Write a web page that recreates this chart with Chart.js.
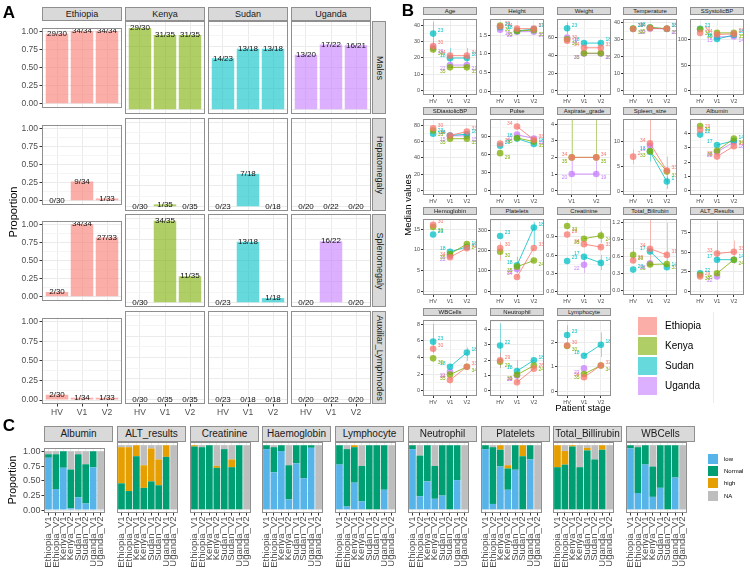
<!DOCTYPE html>
<html>
<head>
<meta charset="utf-8">
<script src="https://cdn.jsdelivr.net/npm/chart.js@4.4.1/dist/chart.umd.min.js"></script>
<style>
  html, body { margin: 0; padding: 0; background: #fff; }
  #page { position: relative; width: 750px; height: 574px; overflow: hidden; font-family: "Liberation Sans", Arial, sans-serif; }
  canvas { position: absolute; }
  .strip { position: absolute; background: #d9d9d9; border: 1px solid #8f8f8f; box-sizing: border-box; color: #1a1a1a; overflow: hidden; }
  .strip span { position: absolute; left: 50%; top: 50%; line-height: 1; white-space: nowrap; }
  .txt { position: absolute; white-space: nowrap; line-height: 1; }
</style>
</head>
<body>
<div id="page"></div>
<script>
// ---- shared ----
const countries = ["Ethiopia", "Kenya", "Sudan", "Uganda"];
const stages = ["HV", "V1", "V2"];
const hues = ["248,118,109", "124,174,0", "0,191,196", "199,124,255"];

// ---- panel A: patients with sign / patients seen, [HV, V1, V2] per country ----
const aRows = ["Males", "Hepatomegaly", "Splenomegaly", "Auxiliar_Lymphnodes"];
const malesN = [[29, 34, 34], [29, 31, 31], [14, 13, 13], [13, 17, 16]];
const malesD = [[30, 34, 34], [30, 35, 35], [23, 18, 18], [20, 22, 21]];
const hepatoN = [[0, 9, 1], [0, 1, 0], [0, 7, 0], [0, 0, 0]];
const hepatoD = [[30, 34, 33], [30, 35, 35], [23, 18, 18], [20, 22, 20]];
const splenoN = [[2, 34, 27], [0, 34, 11], [0, 13, 1], [0, 16, 0]];
const splenoD = [[30, 34, 33], [30, 35, 35], [23, 18, 18], [20, 22, 20]];
const lymphN = [[2, 1, 1], [0, 0, 0], [0, 0, 0], [0, 0, 0]];
const lymphD = [[30, 34, 33], [30, 35, 35], [23, 18, 18], [20, 22, 20]];
const aTicks = [0, 0.25, 0.5, 0.75, 1];

// ---- panel B: median values, [HV, V1, V2] per country ----
const bNames = ["Age", "Height", "Weight", "Temperature", "SSystolicBP", "SDiastolicBP", "Pulse", "Aspirate_grade", "Spleen_size", "Albumin",
  "Hemoglobin", "Platelets", "Creatinine", "Total_Bilirubin", "ALT_Results", "WBCells", "Neutrophil", "Lymphocyte"];
const ageMed = [[27.2, 21.4, 21.4], [25.2, 14.3, 14.3], [34.8, 19.9, 20.0], [26.2, 15.7, 15.7]];
const ageN = [[30, 34, 34], [30, 35, 35], [23, 18, 18], [19, 22, 21]];
const heightMed = [[1.73, 1.67, 1.67], [1.75, 1.61, 1.63], [1.71, 1.61, 1.66], [1.64, 1.59, 1.59]];
const heightN = [[30, 34, 33], [30, 35, 35], [23, 18, 17], [19, 22, 20]];
const weightMed = [[56.5, 48.5, 48.5], [58, 42.5, 42.5], [70.4, 53.8, 53.8], [60, 42, 42]];
const weightN = [[30, 34, 33], [30, 35, 35], [23, 18, 18], [19, 22, 20]];
const tempMed = [[36.3, 36.8, 36.5], [36.6, 37.2, 36.6], [36.5, 37.3, 36.4], [null, 36.6, 36.5]];
const tempN = [[30, 34, 33], [30, 35, 35], [23, 18, 18], [null, 22, 20]];
const sbpMed = [[113, 110, 111], [120, 113, 113], [121, 101, 109], [null, 105, 106]];
const sbpN = [[30, 34, 33], [30, 35, 35], [23, 18, 18], [null, 15, 14]];
const dbpMed = [[76.2, 67.3, 72.4], [73.5, 63.5, 63.5], [69.6, 67.5, 69], [null, 67, 67]];
const dbpN = [[30, 34, 33], [33, 35, 35], [23, 18, 18], [null, 15, 15]];
const pulseMed = [[78, 106, 84], [62, 87, 81], [74.4, 86, 77], [null, 92.5, 86]];
const pulseN = [[30, 34, 33], [29, 35, 35], [23, 18, 18], [null, 21, 19]];
const aspMed = [[2, 2], [2, 2], [null, null], [1, 1]]; // V1, V2 only
const aspN = [[34, 34], [35, 35], [null, null], [20, 19]];
const spleenMed = [[7, 9.7, 4.2], [null, 8.1, 4], [null, 8.0, 2], [null, 9.2, null]];
const spleenN = [[2, 34, 33], [null, 33, 33], [null, 13, 1], [null, 16, null]];
const albMed = [[4.26, 2.39, 3.12], [4.53, 2.8, 3.65], [3.93, 3.2, 3.5], [null, 2.72, 3.4]];
const albN = [[29, 32, 32], [30, 35, 34], [22, 17, 14], [null, 22, 18]];
const hbMed = [[16, 8.2, 10.4], [15.5, 9.0, 11.4], [13.7, 9.5, 10.7], [null, 8.6, null]];
const hbN = [[30, 34, 33], [33, 35, 24], [23, 18, 18], [null, 22, null]];
const pltMed = [[213, 70, 213], [194, 121, 151], [272, 128, 314], [null, 109, null]];
const pltN = [[30, 34, 33], [30, 35, 24], [23, 18, 18], [null, 22, null]];
const creatMed = [[0.94, 0.78, 0.73], [1.08, 0.87, 0.92], [0.5, 0.57, 0.47], [null, 0.44, null]];
const creatN = [[29, 34, 33], [33, 35, 24], [23, 17, 14], [null, 22, null]];
const bilMed = [[0.53, 0.74, 0.63], [0.63, 0.46, 0.47], [0.37, 0.69, 0.41], [null, 0.48, null]];
const bilN = [[29, 34, 31], [30, 35, 33], [23, 17, 14], [null, 22, null]];
const altMed = [[19, 48.5, 50.6], [21, 23, 40.5], [23, 40.5, 40.5], [null, 19, null]];
const altN = [[29, 33, 33], [30, 35, 24], [22, 17, 14], [null, 22, null]];
const wbcMed = [[5.05, 1.3, 2.9], [3.9, 1.95, 2.9], [5.9, 2.9, 4.6], [null, 2.3, null]];
const wbcN = [[30, 34, 33], [30, 35, 34], [23, 18, 18], [null, 22, null]];
const neutMed = [[2.0, 0.56, 1.45], [1.9, 1.05, 1.65], [2.96, 1.3, 2.0], [null, 1.0, null]];
const neutN = [[29, 34, 26], [29, 35, 24], [22, 18, 18], [null, 22, null]];
const lymMed = [[1.87, 0.57, 1.05], [1.85, 0.7, 1.05], [2.3, 1.45, 1.9], [null, 0.93, null]];
const lymN = [[30, 34, 32], [30, 35, 34], [23, 18, 18], [null, 22, null]];

const bMeds = [ageMed, heightMed, weightMed, tempMed, sbpMed, dbpMed, pulseMed, aspMed, spleenMed, albMed,
  hbMed, pltMed, creatMed, bilMed, altMed, wbcMed, neutMed, lymMed];
const bNs = [ageN, heightN, weightN, tempN, sbpN, dbpN, pulseN, aspN, spleenN, albN,
  hbN, pltN, creatN, bilN, altN, wbcN, neutN, lymN];
const bLims = [[-2.5, 43.5], [-0.1, 1.92], [-4.5, 80.5], [-2.6, 42.1], [-8.5, 139.6], [-5.2, 87.2], [-7, 117.8], [-0.26, 4.29], [-0.7, 14.5], [-0.3, 5.0],
  [-0.9, 17.35], [-18.6, 354], [-0.06, 1.19], [-0.08, 1.26], [-4.9, 92.4], [-0.6, 8.45], [-0.33, 4.6], [-0.2, 2.9]];
const bTicks = [[0, 10, 20, 30, 40], [0, 0.5, 1, 1.5], [0, 20, 40, 60], [0, 10, 20, 30, 40], [0, 50, 100], [0, 20, 40, 60, 80], [0, 30, 60, 90], [0, 1, 2, 3, 4], [0, 5, 10], [0, 1, 2, 3, 4],
  [0, 5, 10, 15], [0, 100, 200, 300], [0, 0.3, 0.6, 0.9], [0, 0.3, 0.6, 0.9, 1.2], [0, 25, 50, 75], [0, 2, 4, 6, 8], [0, 1, 2, 3, 4], [0, 1, 2]];
const bDec = [0, 1, 0, 0, 0, 0, 0, 0, 0, 0, 0, 0, 1, 1, 0, 0, 0, 0];
// error bars: [panel, country, stage index, low, high]
const bErr = [
  [0, 2, 0, 26, 42], [0, 2, 1, 17, 26], [0, 2, 2, 17, 26], [0, 0, 0, 23, 30],
  [2, 2, 0, 64, 77],
  [7, 1, 0, 2, 4.3], [7, 1, 1, 2, 4.3], [7, 3, 0, 1, 2], [7, 3, 1, 1, 2],
  [8, 0, 0, 5.5, 8.5], [8, 0, 1, 8, 14.5], [8, 0, 2, 2, 7], [8, 2, 1, 6, 10], [8, 2, 2, 0.5, 3],
  [11, 2, 2, 220, 340], [11, 0, 0, 150, 240], [11, 2, 1, 90, 170],
  [12, 1, 2, 0.8, 1.0], [12, 2, 2, 0.35, 0.6], [12, 3, 1, 0.3, 0.55],
  [13, 0, 1, 0.5, 1.25], [13, 1, 0, 0.5, 0.9], [13, 0, 2, 0.45, 1.2],
  [14, 2, 1, 20, 90], [14, 0, 2, 35, 65],
  [15, 2, 0, 4.5, 8], [15, 2, 2, 3.6, 5.2],
  [16, 2, 0, 1.5, 4.4], [16, 1, 1, 0.5, 2.0], [16, 0, 0, 1.5, 2.5],
  [17, 2, 0, 1.9, 2.7], [17, 2, 2, 1.4, 2.4]
];

// ---- panel C: share of low / Normal / high / NA per group ----
const cNames = ["Albumin", "ALT_results", "Creatinine", "Haemoglobin", "Lymphocyte", "Neutrophil", "Platelets", "Total_Billirubin", "WBCells"];
const cGroups = ["Ethiopia_V1", "Ethiopia_V2", "Kenya_V1", "Kenya_V2", "Sudan_V1", "Sudan_V2", "Uganda_V1", "Uganda_V2"];
const cLevels = ["low", "Normal", "high", "NA"];
const cCols = ["#56B4E9", "#009E73", "#E69F00", "#BEBEBE"];
const albuminC = [[0.89, 0.06, 0, 0.05], [0.36, 0.59, 0, 0.05], [0.72, 0.28, 0, 0], [0.03, 0.66, 0, 0.31], [0.22, 0.73, 0, 0.05], [0.11, 0.67, 0, 0.22], [0.73, 0.27, 0, 0], [0, 0, 0, 1]];
const altC = [[0, 0.41, 0.56, 0.03], [0, 0.29, 0.68, 0.03], [0, 0.83, 0.17, 0], [0, 0.34, 0.35, 0.31], [0, 0.44, 0.51, 0.05], [0, 0.38, 0.40, 0.22], [0, 0.82, 0.18, 0], [0, 0, 0, 1]];
const creatC = [[0, 0.98, 0.02, 0], [0, 0.97, 0, 0.03], [0, 1, 0, 0], [0, 0.65, 0.03, 0.32], [0, 0.94, 0, 0.06], [0, 0.66, 0.12, 0.22], [0, 1, 0, 0], [0, 0, 0, 1]];
const haemC = [[0.94, 0.06, 0, 0], [0.58, 0.39, 0, 0.03], [0.91, 0.09, 0, 0], [0.16, 0.53, 0, 0.31], [0.72, 0.28, 0, 0], [0.49, 0.51, 0, 0], [0.96, 0.04, 0, 0], [0, 0, 0, 1]];
const lymphC = [[0.70, 0.30, 0, 0], [0.05, 0.89, 0, 0.06], [0.42, 0.55, 0.03, 0], [0.13, 0.55, 0, 0.32], [0, 1, 0, 0], [0, 1, 0, 0], [0.31, 0.69, 0, 0], [0, 0, 0, 1]];
const neutC = [[0.94, 0.06, 0, 0], [0.21, 0.63, 0, 0.16], [0.44, 0.56, 0, 0], [0.17, 0.51, 0, 0.32], [0.22, 0.78, 0, 0], [0, 1, 0, 0], [0.46, 0.54, 0, 0], [0, 0, 0, 1]];
const pltC = [[0.94, 0.06, 0, 0], [0.09, 0.88, 0, 0.03], [0.67, 0.26, 0.07, 0], [0.31, 0.33, 0.05, 0.31], [0.62, 0.38, 0, 0], [0, 0.83, 0.17, 0], [0.78, 0.22, 0, 0], [0, 0, 0, 1]];
const bilC = [[0, 0.66, 0.34, 0], [0, 0.70, 0.21, 0.09], [0, 0.98, 0.02, 0], [0, 0.66, 0, 0.34], [0, 0.92, 0.04, 0.04], [0, 0.78, 0, 0.22], [0, 0.93, 0.07, 0], [0, 0, 0, 1]];
const wbcC = [[0.95, 0.05, 0, 0], [0.26, 0.71, 0, 0.03], [0.70, 0.30, 0, 0], [0.20, 0.47, 0, 0.33], [0.34, 0.66, 0, 0], [0, 1, 0, 0], [0.50, 0.50, 0, 0], [0, 0, 0, 1]];
const cVals = [albuminC, altC, creatC, haemC, lymphC, neutC, pltC, bilC, wbcC];

// ---- helpers ----
const page = document.getElementById("page");
const FONT = "'Liberation Sans', Arial, sans-serif";
Chart.defaults.font.family = FONT;

function text(str, cx, cy, size, opt = {}) {
  const d = document.createElement("div");
  d.className = "txt";
  d.textContent = str;
  d.style.left = cx + "px";
  d.style.top = cy + "px";
  d.style.fontSize = size + "px";
  d.style.fontWeight = opt.bold ? "bold" : "normal";
  d.style.color = opt.color || "#000";
  d.style.transform = opt.anchorLeft ? "translate(0,-50%)" : "translate(-50%,-50%)" + (opt.rot ? " rotate(" + opt.rot + "deg)" : "");
  page.appendChild(d);
}

function strip(x, y, w, h, str, size, vertical) {
  const d = document.createElement("div");
  d.className = "strip";
  d.style.left = x + "px"; d.style.top = y + "px";
  d.style.width = w + "px"; d.style.height = h + "px";
  const s = document.createElement("span");
  s.textContent = str;
  s.style.fontSize = size + "px";
  s.style.transform = "translate(-50%,-50%)" + (vertical ? " rotate(90deg)" : "");
  d.appendChild(s);
  page.appendChild(d);
}

function box(x, y, w, h, color) {
  const d = document.createElement("div");
  d.style.position = "absolute";
  d.style.left = x + "px"; d.style.top = y + "px";
  d.style.width = w + "px"; d.style.height = h + "px";
  d.style.background = color;
  page.appendChild(d);
}

const frame = {
  id: "frame",
  afterDraw(chart) {
    const a = chart.chartArea, c = chart.ctx;
    c.save();
    c.strokeStyle = "#8f8f8f";
    c.lineWidth = 1;
    c.strokeRect(Math.round(a.left) + 0.5, Math.round(a.top) + 0.5, Math.round(a.width) - 1, Math.round(a.height) - 1);
    c.restore();
  }
};

// one facet panel; x, y, w, h is the plot area on the page
function facet(o) {
  const R = o.R || 0;
  const cv = document.createElement("canvas");
  cv.width = o.L + o.w + R;
  cv.height = o.h + o.B;
  cv.style.left = (o.x - o.L) + "px";
  cv.style.top = o.y + "px";
  page.appendChild(cv);

  const step = o.yticks[1] - o.yticks[0];
  const minor = new Set();
  const yAll = o.yticks.slice();
  [o.yticks[0] - step / 2].concat(o.yticks.map(v => v + step / 2)).forEach(v => {
    if (v > o.ymin && v < o.ymax) { yAll.push(v); minor.add(v); }
  });
  yAll.sort((a, b) => a - b);
  const isMinor = c => c.tick && minor.has(c.tick.value);

  return new Chart(cv, {
    type: o.type,
    data: { datasets: o.datasets },
    options: {
      responsive: false,
      animation: false,
      events: [],
      layout: { padding: { left: 0, right: R, top: 0, bottom: 0 }, autoPadding: false },
      plugins: { legend: { display: false }, tooltip: { enabled: false } },
      scales: {
        x: {
          type: "linear", min: o.xmin, max: o.xmax, bounds: "data", offset: false, stacked: !!o.stacked,
          afterBuildTicks: s => { s.ticks = o.xlabels.map((_, i) => ({ value: i })); },
          afterFit: s => { s.height = o.B; },
          border: { display: false },
          grid: { color: "#ebebeb", lineWidth: 1, offset: false, drawTicks: o.showX, tickLength: o.tl, tickColor: "#333" },
          ticks: {
            display: o.showX, autoSkip: false, maxRotation: o.rot || 0, minRotation: o.rot || 0,
            padding: o.pad, color: "#4d4d4d", font: { size: o.xfs },
            callback: (v, i) => o.xlabels[i]
          }
        },
        y: {
          type: "linear", min: o.ymin, max: o.ymax, bounds: "data", stacked: !!o.stacked,
          afterBuildTicks: s => { s.ticks = yAll.map(v => ({ value: v })); },
          afterFit: s => { s.width = o.L; },
          border: { display: false },
          grid: {
            color: c => isMinor(c) ? "#f5f5f5" : "#ebebeb", lineWidth: 1,
            drawTicks: o.showY, tickLength: o.tl,
            tickColor: c => isMinor(c) ? "rgba(0,0,0,0)" : "#333"
          },
          ticks: {
            display: o.showY, autoSkip: false, padding: o.pad, color: "#4d4d4d", font: { size: o.yfs },
            callback: v => minor.has(v) ? "" : o.yfmt(v)
          }
        }
      }
    },
    plugins: [frame].concat(o.plugins || [])
  });
}

// ---- panel A ----
const barText = {
  id: "barText",
  afterDatasetsDraw(chart) {
    const c = chart.ctx, ds = chart.data.datasets[0];
    c.save();
    c.font = "8px " + FONT;
    c.fillStyle = "#111";
    c.textAlign = "center";
    c.textBaseline = "middle";
    chart.getDatasetMeta(0).data.forEach((bar, i) => c.fillText(ds.labels[i], bar.x, bar.y));
    c.restore();
  }
};

const aNums = [malesN, hepatoN, splenoN, lymphN];
const aDens = [malesD, hepatoD, splenoD, lymphD];
const aColX = [42, 125, 208, 291];
const aRowY = [21, 118, 214, 311];

aRows.forEach((row, r) => {
  countries.forEach((cn, k) => {
    const num = aNums[r][k], den = aDens[r][k];
    facet({
      x: aColX[k], y: aRowY[r], w: 80, h: 93,
      L: k === 0 ? 28 : 0, B: r === 3 ? 16 : 0,
      type: "bar",
      datasets: [{
        data: num.map((n, i) => ({ x: i, y: n / den[i] })),
        labels: num.map((n, i) => n + "/" + den[i]),
        backgroundColor: "rgba(" + hues[k] + ",0.6)",
        categoryPercentage: 1, barPercentage: 0.9
      }],
      xmin: -0.6, xmax: 2.6, xlabels: stages,
      ymin: -0.05, ymax: 1.05, yticks: aTicks, yfmt: v => v.toFixed(2),
      showX: r === 3, showY: k === 0, tl: 2.5, pad: 1.5, xfs: 8.5, yfs: 8.5,
      plugins: [barText]
    });
  });
  strip(372, aRowY[r], 14, 93, row, 9, true);
});
countries.forEach((cn, k) => strip(aColX[k], 7, 80, 14, cn, 9, false));
text("Proportion", 13, 212, 11, { rot: -90 });
text("A", 9, 12, 17, { bold: true });

// ---- panel B ----
const bColX = [423, 490, 557, 623, 690];
const bRowY = [7, 107, 207, 308];
const labelDy = [-3, 4, -3, 4];

bNames.forEach((name, p) => {
  const col = p % 5, row = Math.floor(p / 5);
  const stg = p === 7 ? ["V1", "V2"] : stages;
  const px = bColX[col], py = bRowY[row] + 8;
  const datasets = countries.map((cn, k) => ({
    type: "line",
    data: stg.map((s, i) => ({ x: i, y: bMeds[p][k][i] })),
    counts: bNs[p][k],
    stageNames: stg,
    borderColor: "rgba(" + hues[k] + ",0.8)",
    borderWidth: 1,
    pointRadius: 3.3,
    pointBorderWidth: 0,
    pointBackgroundColor: "rgba(" + hues[k] + ",0.75)",
    segment: { borderColor: c => stg[c.p0DataIndex] === "HV" ? "rgba(0,0,0,0)" : "rgba(" + hues[k] + ",0.8)" },
    spanGaps: false,
    fill: false
  }));
  const extras = {
    id: "bExtras",
    beforeDatasetsDraw(chart) {
      const c = chart.ctx, xs = chart.scales.x, ys = chart.scales.y;
      c.save();
      c.lineWidth = 1;
      bErr.filter(e => e[0] === p).forEach(e => {
        const x = Math.round(xs.getPixelForValue(e[2])) + 0.5;
        c.strokeStyle = "rgba(" + hues[e[1]] + ",0.45)";
        c.beginPath();
        c.moveTo(x, ys.getPixelForValue(e[3]));
        c.lineTo(x, Math.max(ys.getPixelForValue(e[4]), chart.chartArea.top));
        c.stroke();
      });
      c.restore();
    },
    afterDatasetsDraw(chart) {
      const c = chart.ctx;
      c.save();
      c.font = "5px " + FONT;
      c.textBaseline = "middle";
      chart.data.datasets.forEach((ds, k) => {
        chart.getDatasetMeta(k).data.forEach((pt, i) => {
          const n = ds.counts[i];
          if (n == null || pt.skip) return;
          const left = ds.stageNames[i] === "V1";
          c.fillStyle = "rgb(" + hues[k] + ")";
          c.textAlign = left ? "right" : "left";
          c.fillText(String(n), pt.x + (left ? -4.5 : 4.5), pt.y + labelDy[k]);
        });
      });
      c.restore();
    }
  };
  facet({
    x: px, y: py, w: 54, h: 80, L: 13, B: 9, R: 6,
    type: "line", datasets,
    xmin: -0.6, xmax: stg.length - 0.4, xlabels: stg,
    ymin: bLims[p][0], ymax: bLims[p][1], yticks: bTicks[p], yfmt: v => v.toFixed(bDec[p]),
    showX: true, showY: true, tl: 2, pad: 1, xfs: 5.5, yfs: 5.5,
    plugins: [extras]
  });
  strip(px, bRowY[row], 54, 8, name, 6, false);
});
text("Median values", 408, 205, 9.5, { rot: -90 });
text("Patient stage", 583, 408, 9.5);
text("B", 408, 10, 17, { bold: true });

// legend B
countries.forEach((cn, k) => {
  box(638, 317 + k * 20, 19, 18, "rgba(" + hues[k] + ",0.6)");
  text(cn, 665, 326 + k * 20, 10, { anchorLeft: true });
});
box(713, 312, 1, 91, "#ebebeb");

// ---- panel C ----
cNames.forEach((name, j) => {
  const px = Math.round(44 + j * 72.75);
  facet({
    x: px, y: 442, w: 69, h: 71,
    L: j === 0 ? 26 : 0, B: 62,
    type: "bar", stacked: true,
    datasets: cLevels.map((lv, m) => ({
      data: cVals[j].map((v, i) => ({ x: i, y: v[m] })),
      backgroundColor: cCols[m],
      categoryPercentage: 1, barPercentage: 0.9
    })),
    xmin: -0.6, xmax: 7.6, xlabels: cGroups,
    ymin: -0.05, ymax: 1.05, yticks: aTicks, yfmt: v => v.toFixed(2),
    showX: true, showY: j === 0, tl: 2.5, pad: 1, xfs: 9.5, yfs: 9, rot: 90
  });
  strip(px, 426, 69, 16, name, 10, false);
});
text("Proportion", 12, 480, 10.5, { rot: -90 });
text("C", 9, 425, 17, { bold: true });

// legend C
cLevels.forEach((lv, m) => {
  box(708, 454 + m * 12.2, 10, 10, cCols[m]);
  text(lv, 724, 459 + m * 12.2, 6, { anchorLeft: true });
});
</script>
</body>
</html>
